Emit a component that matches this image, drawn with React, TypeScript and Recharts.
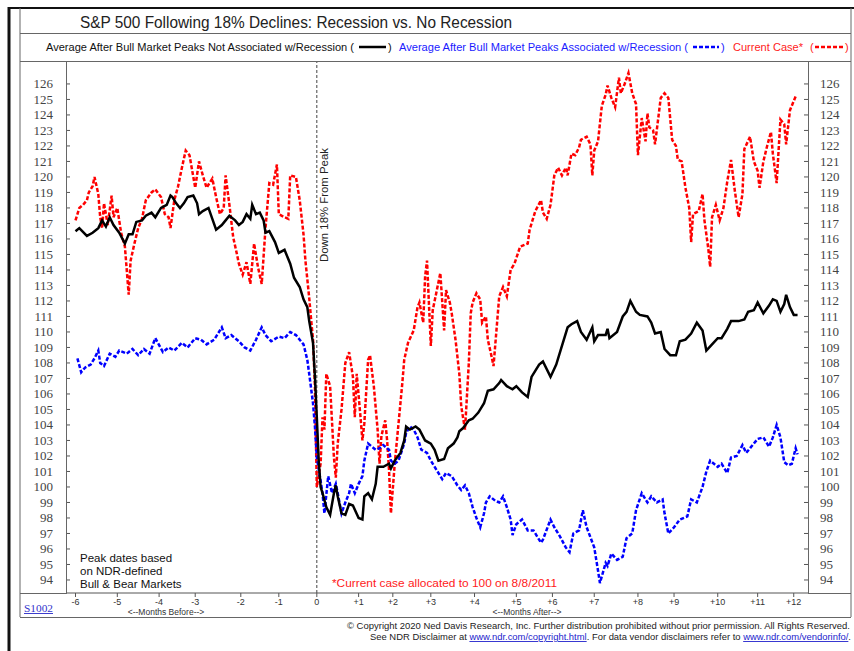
import React from "react";
import { LineChart, Line, XAxis, YAxis, ReferenceLine } from "recharts";

// x values are trading days relative to the 18% decline date (day 0)
const MONTH_DAYS = [-127, -105, -83, -64, -40, -20, 0, 22, 40, 60, 83, 105, 124, 146, 169, 188, 211, 232, 251];
const MONTH_LABELS = ["-6", "-5", "-4", "-3", "-2", "-1", "0", "+1", "+2", "+3", "+4", "+5", "+6", "+7", "+8", "+9", "+10", "+11", "+12"];
const Y_TICKS = [94, 95, 96, 97, 98, 99, 100, 101, 102, 103, 104, 105, 106, 107, 108, 109, 110, 111, 112, 113, 114, 115, 116, 117, 118, 119, 120, 121, 122, 123, 124, 125, 126];

const noRecDays = [
  -127, -125, -121, -118, -115, -113, -111, -109, -107, -104,
  -101, -99, -97, -95, -92, -90, -87, -85, -82, -79,
  -77, -76, -74, -72, -70, -68, -65, -63, -62, -60,
  -57, -55, -53, -50, -48, -46, -43, -41, -39, -37,
  -35, -34, -32, -30, -28, -27, -25, -22, -20, -17,
  -14, -12, -9, -7, -5, -4, -2, -1, 0, 1,
  2, 3, 5, 7, 9, 10, 11, 13, 15, 17,
  19, 22, 24, 25, 27, 29, 31, 32, 35, 38,
  39, 41, 44, 46, 47, 49, 52, 54, 57, 60,
  62, 64, 67, 69, 72, 74, 75, 77, 80, 82,
  85, 88, 90, 93, 96, 97, 100, 103, 105, 108,
  111, 113, 117, 119, 123, 126, 129, 132, 134, 137,
  139, 142, 145, 146, 148, 152, 153, 154, 158, 161,
  163, 165, 168, 170, 174, 176, 178, 181, 183, 186,
  189, 191, 194, 197, 200, 203, 205, 208, 211, 213,
  216, 218, 222, 225, 227, 230, 232, 235, 238, 240,
  242, 244, 246, 247, 249, 251, 253,
];
const noRecValues = [
  116.5, 116.7, 116.2, 116.4, 116.7, 117.2, 116.8, 117.4, 116.9, 116.4,
  115.7, 116.3, 116.3, 117.1, 117.2, 117.5, 117.7, 117.4, 118.0, 118.2,
  118.8, 118.7, 118.3, 118.0, 118.3, 118.7, 118.8, 118.3, 117.6, 117.8,
  118.0, 117.3, 116.6, 116.9, 117.2, 117.5, 117.2, 116.9, 117.1, 117.6,
  117.3, 118.2, 117.6, 117.7, 117.2, 116.4, 116.5, 115.8, 115.1, 115.3,
  114.4, 113.5, 112.9, 112.1, 111.6, 110.7, 109.3, 107.1, 104.5, 101.7,
  100.0, 99.6, 98.7, 98.2, 99.6, 100.1, 99.4, 98.3, 98.2, 98.9,
  98.8, 98.0, 97.9, 99.4, 99.6, 99.2, 100.2, 101.3, 101.3, 101.5,
  101.2, 101.7, 102.2, 103.0, 103.9, 103.7, 103.9, 103.7, 103.0, 102.8,
  102.4, 101.7, 101.8, 102.5, 102.8, 103.2, 103.6, 103.8, 104.3, 104.4,
  104.8, 105.4, 106.2, 106.3, 106.7, 106.9, 106.5, 106.3, 106.5, 106.1,
  105.8, 107.1, 107.9, 108.1, 107.1, 107.9, 109.1, 110.3, 110.5, 110.7,
  110.0, 109.5, 110.3, 109.4, 109.8, 109.8, 110.2, 109.6, 110.0, 111.0,
  111.3, 112.0, 111.3, 111.1, 111.0, 110.6, 109.9, 110.0, 108.9, 108.5,
  108.5, 109.4, 109.5, 109.9, 110.6, 110.1, 108.8, 109.2, 109.6, 109.6,
  110.2, 110.7, 110.7, 110.8, 111.3, 111.4, 111.9, 111.2, 111.7, 112.1,
  112.0, 111.3, 111.8, 112.4, 111.6, 111.1, 111.1,
];

const recDays = [
  -126, -124, -122, -119, -117, -115, -114, -112, -109, -106,
  -104, -100, -97, -94, -91, -88, -85, -81, -78, -75,
  -71, -68, -64, -61, -58, -54, -50, -48, -45, -41,
  -38, -35, -32, -29, -27, -24, -20, -17, -14, -11,
  -9, -7, -5, -4, -2, -1, 0, 2, 3, 4,
  6, 8, 10, 11, 13, 15, 17, 18, 20, 22,
  24, 25, 27, 29, 31, 33, 35, 38, 39, 41,
  43, 46, 47, 49, 51, 53, 55, 58, 60, 63,
  66, 68, 71, 74, 76, 78, 80, 82, 84, 86,
  88, 89, 91, 94, 96, 98, 100, 102, 103, 105,
  108, 111, 114, 118, 119, 123, 125, 128, 131, 133,
  135, 138, 140, 142, 146, 148, 149, 152, 153, 155,
  158, 161, 163, 166, 168, 171, 174, 176, 179, 182,
  183, 185, 188, 191, 195, 197, 200, 203, 205, 207,
  209, 211, 213, 216, 218, 221, 224, 226, 230, 232,
  235, 238, 240, 242, 244, 246, 248, 250, 252, 253,
];
const recValues = [
  108.3, 107.4, 107.7, 107.9, 108.3, 108.8, 108.0, 107.8, 108.6, 108.4,
  108.8, 108.6, 108.9, 108.5, 108.9, 108.6, 109.6, 108.7, 109.0, 108.8,
  109.3, 109.0, 109.6, 109.5, 109.2, 109.5, 110.3, 109.6, 109.8, 109.4,
  109.0, 108.8, 109.5, 110.3, 109.8, 109.4, 109.7, 109.6, 110.0, 109.8,
  109.5, 109.2, 108.2, 107.3, 105.4, 103.9, 101.9, 100.4, 99.6, 98.3,
  100.7, 99.6, 100.2, 99.6, 98.3, 99.0, 99.6, 100.2, 99.6, 100.2,
  100.7, 101.7, 102.8, 102.6, 102.4, 102.5, 102.7, 102.4, 101.7, 101.5,
  101.7, 102.8, 103.5, 103.9, 103.7, 103.2, 102.4, 102.2, 101.7, 101.1,
  100.5, 100.9, 100.7, 100.1, 99.8, 100.1, 99.6, 98.7, 98.0, 97.4,
  98.3, 99.0, 99.4, 99.1, 99.0, 99.4, 98.7, 97.9, 96.9, 97.6,
  97.9, 97.2, 97.2, 96.4, 96.6, 97.9, 97.4, 96.8, 96.1, 95.8,
  97.0, 97.2, 98.5, 97.4, 96.1, 94.6, 93.8, 95.1, 94.9, 95.7,
  95.3, 95.5, 96.7, 97.0, 98.5, 99.6, 99.0, 99.4, 99.0, 99.2,
  98.3, 97.0, 97.4, 97.9, 98.1, 99.2, 99.0, 100.0, 101.0, 101.7,
  101.5, 101.3, 101.5, 100.9, 101.9, 102.0, 102.7, 102.2, 102.8, 103.1,
  103.2, 102.6, 103.2, 104.0, 103.2, 101.6, 101.4, 101.5, 102.5, 102.1,
];

const curDays = [
  -127, -125, -123, -121, -120, -118, -117, -115, -114, -113,
  -112, -110, -108, -107, -105, -103, -101, -99, -98, -96,
  -94, -92, -90, -87, -85, -82, -80, -78, -77, -75,
  -73, -71, -69, -67, -64, -62, -60, -58, -55, -53,
  -51, -49, -48, -46, -44, -42, -41, -39, -37, -35,
  -33, -31, -29, -27, -25, -23, -21, -20, -17, -15,
  -14, -11, -9, -7, -6, -4, -3, -2, -1, 0,
  2, 3, 4, 5, 7, 9, 10, 11, 13, 15,
  17, 19, 20, 21, 23, 24, 25, 27, 28, 30,
  32, 33, 34, 36, 37, 38, 39, 41, 43, 45,
  46, 48, 51, 53, 54, 56, 57, 58, 60, 61,
  63, 65, 67, 68, 70, 71, 73, 75, 76, 78,
  80, 81, 82, 84, 86, 87, 89, 90, 92, 93,
  95, 96, 98, 100, 102, 104, 107, 111, 112, 115,
  118, 119, 121, 123, 125, 127, 129, 131, 132, 134,
  136, 138, 139, 142, 144, 145, 146, 148, 150, 152,
  153, 155, 157, 159, 160, 162, 164, 166, 168, 169,
  171, 173, 174, 175, 177, 178, 181, 183, 185, 187,
  189, 190, 192, 194, 196, 197, 198, 201, 203, 204,
  206, 207, 208, 210, 212, 214, 216, 218, 220, 222,
  224, 225, 228, 230, 232, 233, 235, 237, 239, 240,
  242, 244, 246, 247, 249, 252,
];
const curValues = [
  117.2, 118.0, 118.2, 118.5, 119.0, 119.4, 120.0, 118.9, 117.4, 116.7,
  118.3, 116.9, 118.8, 117.4, 118.0, 116.4, 115.5, 112.4, 114.6, 115.7,
  116.7, 117.3, 118.5, 119.0, 119.2, 118.7, 117.6, 117.4, 116.7, 118.5,
  119.4, 120.6, 121.7, 121.4, 119.3, 121.0, 120.1, 119.3, 119.9, 118.7,
  117.6, 118.0, 120.1, 118.2, 116.1, 115.0, 114.4, 113.7, 114.5, 113.1,
  115.7, 114.2, 113.1, 116.7, 119.6, 119.5, 120.8, 117.6, 117.4, 117.3,
  120.1, 120.0, 118.5, 116.3, 114.6, 112.2, 110.8, 109.5, 106.5, 100.0,
  101.5, 104.5, 103.7, 107.3, 106.5, 101.9, 100.6, 102.8, 105.0, 108.0,
  108.7, 107.1, 104.5, 107.3, 104.5, 103.0, 104.1, 108.2, 108.5, 106.5,
  103.7, 101.5, 103.3, 104.3, 103.0, 101.1, 98.3, 101.5, 104.1, 106.7,
  108.2, 109.3, 110.1, 111.6, 111.9, 110.6, 113.6, 114.6, 109.1, 111.4,
  112.6, 113.8, 110.1, 112.7, 111.9, 111.2, 109.5, 107.3, 105.2, 103.7,
  108.0, 111.2, 111.9, 112.5, 112.1, 110.6, 111.0, 109.5, 108.4, 107.8,
  110.8, 112.3, 112.9, 112.3, 114.0, 114.4, 115.5, 115.7, 116.6, 117.8,
  118.5, 117.7, 117.3, 118.2, 120.1, 120.6, 120.1, 120.6, 120.1, 121.5,
  121.4, 121.9, 122.4, 122.6, 122.1, 120.1, 121.7, 122.3, 124.6, 125.3,
  125.9, 125.1, 124.5, 126.4, 125.4, 126.0, 126.7, 125.4, 124.7, 121.4,
  123.8, 122.3, 124.1, 123.2, 123.0, 122.1, 125.1, 125.4, 125.1, 122.4,
  122.0, 121.1, 121.0, 119.3, 118.0, 115.8, 117.6, 117.8, 118.9, 117.2,
  115.4, 114.2, 117.4, 118.2, 117.2, 118.0, 119.7, 121.1, 119.1, 117.4,
  118.9, 121.8, 122.6, 121.0, 120.4, 119.3, 121.0, 122.0, 122.9, 121.5,
  119.6, 123.7, 123.4, 122.1, 124.3, 125.2,
];

// one table keyed by day; each series fills its own column
function buildRows() {
  const map = new Map<number, any>();
  const add = (days: number[], vals: number[], key: string) => {
    days.forEach((d, i) => {
      if (!map.has(d)) map.set(d, { day: d });
      map.get(d)[key] = vals[i];
    });
  };
  add(noRecDays, noRecValues, "noRec");
  add(recDays, recValues, "rec");
  add(curDays, curValues, "cur");
  return Array.from(map.values()).sort((a, b) => a.day - b.day);
}
const rows = buildRows();

const SANS = "'Liberation Sans', Arial, Helvetica, sans-serif";
const SERIF = "'Liberation Serif', 'Times New Roman', serif";
const FRAME = "#666";

function YTick(props: any) {
  const { y, payload } = props;
  return (
    <g>
      <line x1={66} x2={70} y1={y} y2={y} stroke="#555" />
      <text x={53} y={y} dy={4.5} textAnchor="end" fontFamily={SERIF} fontSize={13} fill="#444">
        {payload.value}
      </text>
      <line x1={804} x2={808} y1={y} y2={y} stroke="#555" />
      <text x={820} y={y} dy={4.5} textAnchor="start" fontFamily={SERIF} fontSize={13} fill="#444">
        {payload.value}
      </text>
    </g>
  );
}

function PeakLabel(props: any) {
  const vb = props.viewBox || { x: 317 };
  const x = vb.x + 7;
  return (
    <text
      x={x}
      y={205}
      transform={`rotate(-90 ${x} 205)`}
      textAnchor="middle"
      dy={4}
      fontFamily={SANS}
      fontSize={11.5}
      fill="#222"
      textLength={114}
      lengthAdjust="spacingAndGlyphs"
    >
      Down 18% From Peak
    </text>
  );
}

function Overlay() {
  return (
    <svg width={854} height={651} style={{ position: "absolute", left: 0, top: 0, pointerEvents: "none" }}>
      {/* outer frame */}
      <line x1={9} x2={9} y1={7} y2={651} stroke="#111" strokeWidth={3} />
      <line x1={8} x2={854} y1={8} y2={8} stroke="#111" strokeWidth={2} />
      <line x1={20} x2={20} y1={8} y2={617} stroke={FRAME} />
      <line x1={851} x2={851} y1={8} y2={617} stroke={FRAME} />
      <line x1={20} x2={851} y1={33.5} y2={33.5} stroke={FRAME} />
      <line x1={20} x2={851} y1={61.5} y2={61.5} stroke={FRAME} />
      <line x1={20} x2={851} y1={617.5} y2={617.5} stroke={FRAME} />
      <line x1={20} x2={66} y1={593.5} y2={593.5} stroke={FRAME} />
      <line x1={808} x2={851} y1={593.5} y2={593.5} stroke={FRAME} />
      <line x1={66.5} x2={66.5} y1={61} y2={594} stroke={FRAME} />
      <line x1={808.5} x2={808.5} y1={61} y2={594} stroke={FRAME} />

      {/* title */}
      <text x={80} y={28} fontFamily={SANS} fontSize={16} fill="#222" textLength={432} lengthAdjust="spacingAndGlyphs">
        S&amp;P 500 Following 18% Declines: Recession vs. No Recession
      </text>

      {/* legend */}
      <g fontFamily={SANS} fontSize={11}>
        <text x={46} y={51} fill="#111" textLength={308} lengthAdjust="spacingAndGlyphs">
          Average After Bull Market Peaks Not Associated w/Recession (
        </text>
        <line x1={359} x2={386} y1={47} y2={47} stroke="#000" strokeWidth={2.5} />
        <text x={388} y={51} fill="#111">)</text>
        <text x={399} y={51} fill="#1a1aff" textLength={289} lengthAdjust="spacingAndGlyphs">
          Average After Bull Market Peaks Associated w/Recession (
        </text>
        <line x1={693} x2={719} y1={47} y2={47} stroke="#0000ff" strokeWidth={2.5} strokeDasharray="4 2" />
        <text x={721} y={51} fill="#1a1aff">)</text>
        <text x={733} y={51} fill="#ff1a1a" textLength={70} lengthAdjust="spacingAndGlyphs">
          Current Case*
        </text>
        <text x={810} y={51} fill="#ff1a1a">(</text>
        <line x1={815} x2={843} y1={47} y2={47} stroke="#ff0000" strokeWidth={2.5} strokeDasharray="4 2" />
        <text x={845} y={51} fill="#ff1a1a">)</text>
      </g>

      {/* notes inside plot */}
      <g fontFamily={SANS} fontSize={11.5} fill="#111">
        <text x={80} y={562}>Peak dates based</text>
        <text x={80} y={575}>on NDR-defined</text>
        <text x={80} y={588}>Bull &amp; Bear Markets</text>
      </g>
      <text x={332} y={587} fontFamily={SANS} fontSize={11.5} fill="#ff1a1a" textLength={225} lengthAdjust="spacingAndGlyphs">
        *Current case allocated to 100 on 8/8/2011
      </text>

      {/* below axis */}
      <text x={166} y={614.5} textAnchor="middle" fontFamily={SANS} fontSize={8.5} fill="#333">
        &lt;--Months Before--&gt;
      </text>
      <text x={527} y={614.5} textAnchor="middle" fontFamily={SANS} fontSize={8.5} fill="#333">
        &lt;--Months After--&gt;
      </text>
      <text x={24} y={612} fontFamily={SERIF} fontSize={9.5} fill="#3333cc" textDecoration="underline" textLength={29} lengthAdjust="spacingAndGlyphs">
        S1002
      </text>

      {/* copyright */}
      <text x={850} y={628.5} textAnchor="end" fontFamily={SANS} fontSize={9} fill="#222" textLength={503} lengthAdjust="spacingAndGlyphs">
        © Copyright 2020 Ned Davis Research, Inc.  Further distribution prohibited without prior permission.  All Rights Reserved.
      </text>
      <text x={851} y={640} textAnchor="end" fontFamily={SANS} fontSize={9} fill="#222" textLength={481} lengthAdjust="spacingAndGlyphs">
        See NDR Disclaimer at <tspan fill="#2222cc" textDecoration="underline">www.ndr.com/copyright.html</tspan>. For data vendor disclaimers refer to <tspan fill="#2222cc" textDecoration="underline">www.ndr.com/vendorinfo/</tspan>.
      </text>
    </svg>
  );
}

export default function App() {
  return (
    <div style={{ position: "absolute", left: 0, top: 0, width: 854, height: 651, background: "#fff", overflow: "hidden" }}>
      <LineChart width={854} height={651} data={rows} margin={{ top: 61, right: 46, bottom: 28, left: 20 }}>
        <XAxis
          type="number"
          dataKey="day"
          domain={[-132, 258.5]}
          ticks={MONTH_DAYS}
          interval={0}
          allowDataOverflow
          height={30}
          tickSize={4}
          tickMargin={2}
          stroke="#555"
          tickFormatter={(d: number) => MONTH_LABELS[MONTH_DAYS.indexOf(d)] ?? ""}
          tick={{ fontSize: 9, fill: "#333", fontFamily: SANS }}
        />
        <YAxis
          domain={[93.16, 127.48]}
          ticks={Y_TICKS}
          interval={0}
          allowDataOverflow
          width={46}
          axisLine={false}
          tickLine={false}
          tick={<YTick />}
        />
        <ReferenceLine x={0} stroke="#444" strokeDasharray="3 2" label={<PeakLabel />} />
        <Line dataKey="cur" stroke="#ff0000" strokeWidth={2.5} strokeDasharray="4 2" dot={false} connectNulls isAnimationActive={false} />
        <Line dataKey="rec" stroke="#0000ff" strokeWidth={2.5} strokeDasharray="4 2" dot={false} connectNulls isAnimationActive={false} />
        <Line dataKey="noRec" stroke="#000" strokeWidth={2.5} dot={false} connectNulls isAnimationActive={false} />
      </LineChart>
      <Overlay />
    </div>
  );
}
